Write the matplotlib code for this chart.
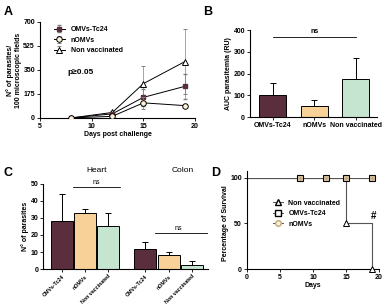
import matplotlib
matplotlib.use("Agg")
import matplotlib.pyplot as plt
import numpy as np

plt.rcParams['font.family'] = ['Liberation Sans', 'DejaVu Sans']
plt.rcParams['font.weight'] = 'bold'
plt.rcParams['axes.linewidth'] = 0.8

# Colors
c_omv = '#5b2e3e'
c_nomv = '#f8d199'
c_non = '#c6e5d0'

groups = ['OMVs-Tc24', 'nOMVs', 'Non vaccinated']

# Panel A data
daysA = [8, 12, 15, 19]
omvA = [0, 30, 150, 230]
omvA_err = [0, 8, 60, 90]
nomvA = [0, 12, 110, 90]
nomvA_err = [0, 5, 45, 0]
nonA = [0, 40, 250, 410]
nonA_err = [0, 10, 125, 235]

# Panel B data
aucB = [100, 50, 175]
aucB_err = [55, 30, 95]

# Panel C data
heart = [28, 33, 25]
heart_err = [16, 2, 8]
colon = [12, 8, 2.5]
colon_err = [4, 2, 2]

# Panel D data
daysD = [0, 8, 12, 15, 19]
nonD_t = [0, 15, 15, 19, 19]
nonD_s = [100, 100, 50, 50, 0]
nonD_mk_t = [15, 19]
nonD_mk_s = [50, 0]
omvD_t = [8, 12, 15, 19]
omvD_s = [100, 100, 100, 100]

fs = 5.0
fig = plt.figure(figsize=(3.84, 3.04), dpi=100)

def style(ax):
    ax.spines['top'].set_visible(False)
    ax.spines['right'].set_visible(False)
    ax.tick_params(labelsize=fs, length=2, width=0.6, pad=1.5)
    for lbl in ax.get_xticklabels() + ax.get_yticklabels():
        lbl.set_fontweight('bold')

# ---------- A ----------
axA = fig.add_axes([0.104, 0.612, 0.404, 0.316])
axA.errorbar(daysA, nonA, yerr=nonA_err, color='black', lw=0.7, marker='^', ms=4,
             mfc='white', mec='black', mew=0.7, ecolor='gray', elinewidth=0.5, capsize=1.5,
             label='Non vaccinated', zorder=3)
axA.errorbar(daysA, omvA, yerr=omvA_err, color='black', lw=0.7, marker='s', ms=3.5,
             mfc=c_omv, mec=c_omv, ecolor='gray', elinewidth=0.5, capsize=1.5,
             label='OMVs-Tc24', zorder=4)
axA.errorbar(daysA, nomvA, yerr=nomvA_err, color='black', lw=0.7, marker='o', ms=4,
             mfc='#fdf1d6', mec='black', mew=0.7, ecolor='gray', elinewidth=0.5, capsize=1.5,
             label='nOMVs', zorder=5)
axA.set_xlim(5, 20)
axA.set_ylim(0, 700)
axA.set_xticks([5, 10, 15, 20])
axA.set_yticks([0, 175, 350, 525, 700])
axA.set_xlabel('Days post challenge', fontsize=fs, fontweight='bold', labelpad=1)
axA.set_ylabel('N° of parasites/\n100 microscopic fields', fontsize=fs, fontweight='bold', labelpad=1)
axA.text(7.7, 335, 'p≥0.05', fontsize=6, fontweight='bold', va='center')
h, l = axA.get_legend_handles_labels()
order = [1, 2, 0]
axA.legend([h[i] for i in order], [l[i] for i in order], loc='upper left',
           bbox_to_anchor=(0.05, 1.02), frameon=False, fontsize=fs,
           handlelength=1.6, labelspacing=0.5, prop={'size': fs, 'weight': 'bold'})
style(axA)
fig.text(0.01, 0.95, 'A', fontsize=9, fontweight='bold')

# ---------- B ----------
axB = fig.add_axes([0.651, 0.615, 0.33, 0.286])
xB = np.arange(3)
axB.bar(xB, aucB, width=0.65, color=[c_omv, c_nomv, c_non], edgecolor='black', lw=0.7)
axB.errorbar(xB, aucB, yerr=[np.zeros(3), aucB_err], fmt='none', ecolor='black',
             elinewidth=0.7, capsize=2.5, capthick=0.7)
axB.plot([0, 2], [370, 370], color='black', lw=0.6)
axB.text(1, 378, 'ns', fontsize=fs, ha='center', va='bottom')
axB.set_xlim(-0.55, 2.5)
axB.set_ylim(0, 400)
axB.set_yticks([0, 100, 200, 300, 400])
axB.set_xticks(xB)
axB.set_xticklabels(groups)
axB.tick_params(axis='x', length=0)
axB.set_ylabel('AUC parasitemia (RU)', fontsize=fs, fontweight='bold', labelpad=1)
style(axB)
fig.text(0.53, 0.95, 'B', fontsize=9, fontweight='bold')

# ---------- C ----------
axC = fig.add_axes([0.112, 0.115, 0.43, 0.28])
xH = np.arange(3)
xC = np.arange(3) + 3.6
colors = [c_omv, c_nomv, c_non]
axC.bar(xH, heart, width=0.95, color=colors, edgecolor='black', lw=0.7)
axC.errorbar(xH, heart, yerr=[np.zeros(3), heart_err], fmt='none', ecolor='black',
             elinewidth=0.7, capsize=2.5, capthick=0.7)
axC.bar(xC, colon, width=0.95, color=colors, edgecolor='black', lw=0.7)
axC.errorbar(xC, colon, yerr=[np.zeros(3), colon_err], fmt='none', ecolor='black',
             elinewidth=0.7, capsize=2.5, capthick=0.7)
axC.plot([0.5, 2.5], [48, 48], color='black', lw=0.6)
axC.text(1.5, 49, 'ns', fontsize=fs, ha='center', va='bottom', fontweight='normal')
axC.plot([4.0, 6.4], [21, 21], color='black', lw=0.6)
axC.text(5.0, 22, 'ns', fontsize=fs, ha='center', va='bottom', fontweight='normal')
axC.text(1.5, 56, 'Heart', fontsize=6, ha='center', va='bottom', fontweight='normal')
axC.text(5.2, 56, 'Colon', fontsize=6, ha='center', va='bottom', fontweight='normal')
axC.set_xlim(-0.8, 6.3)
axC.set_ylim(0, 50)
axC.set_yticks([0, 10, 20, 30, 40, 50])
axC.set_xticks(list(xH) + list(xC))
axC.set_xticklabels(groups + groups, rotation=45, ha='right', rotation_mode='anchor')
axC.set_ylabel('N° of parasites', fontsize=fs, fontweight='bold', labelpad=1)
style(axC)
axC.tick_params(axis='x', labelsize=3.8)
fig.text(0.01, 0.42, 'C', fontsize=9, fontweight='bold')

# ---------- D ----------
axD = fig.add_axes([0.643, 0.115, 0.344, 0.3])
axD.plot([0, 19], [100, 100], color='#555555', lw=0.8, zorder=1)
axD.plot(nonD_t, nonD_s, color='#555555', lw=0.8, zorder=1)
axD.plot(nonD_mk_t, nonD_mk_s, ls='none', marker='^', ms=4, mfc='white', mec='black',
         mew=0.7, label='Non vaccinated', zorder=3, clip_on=False)
axD.plot(omvD_t, omvD_s, ls='none', marker='s', ms=4, mfc='#d9c6a6', mec='black',
         mew=0.8, label='OMVs-Tc24', zorder=3, clip_on=False)
axD.plot(omvD_t, omvD_s, ls='none', marker='o', ms=2, mfc='#c2a776', mec='none',
         label='nOMVs', zorder=4, clip_on=False)
axD.text(19.2, 53, '#', fontsize=7, fontweight='bold', ha='center', va='bottom')
axD.set_xlim(0, 20)
axD.set_ylim(0, 100)
axD.spines['left'].set_bounds(0, 107)
axD.set_xticks([0, 5, 10, 15, 20])
axD.set_yticks([0, 50, 100])
axD.set_xlabel('Days', fontsize=fs, fontweight='bold', labelpad=1)
axD.set_ylabel('Percentage of Survival', fontsize=fs, fontweight='bold', labelpad=1)
from matplotlib.lines import Line2D
hD = [Line2D([], [], color='#555555', lw=0.7, marker='^', ms=4, mfc='white', mec='black'),
      Line2D([], [], color='#555555', lw=0.7, marker='s', ms=4, mfc='white', mec='black'),
      Line2D([], [], color='#555555', lw=0.7, marker='o', ms=4, mfc='#fdf1d6', mec='#c2a776')]
axD.legend(hD, ['Non vaccinated', 'OMVs-Tc24', 'nOMVs'], loc='upper left',
           bbox_to_anchor=(0.15, 0.83), frameon=False, handlelength=1.4,
           labelspacing=0.5, prop={'size': fs, 'weight': 'bold'})
style(axD)
fig.text(0.55, 0.42, 'D', fontsize=9, fontweight='bold')

fig.savefig('out.png', dpi=100)
